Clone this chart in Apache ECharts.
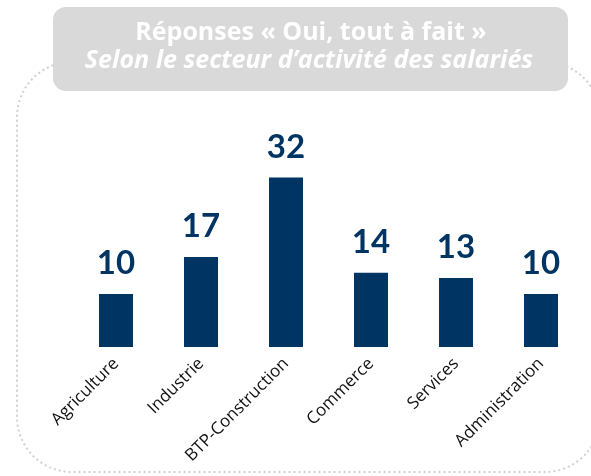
<!DOCTYPE html>
<html>
<head>
<meta charset="utf-8">
<script src="https://cdn.jsdelivr.net/npm/echarts@6/dist/echarts.min.js"></script>
<style>
  html, body { margin: 0; padding: 0; background: #fff; }
  #chart { width: 591px; height: 476px; }
</style>
</head>
<body>
<div id="chart"></div>
<script>
// données
var secteurs = ['Agriculture', 'Industrie', 'BTP-Construction', 'Commerce', 'Services', 'Administration'];
var ouiToutAFait = [10, 17, 32, 14, 13, 10];
var titreLigne1 = 'Réponses « Oui, tout à fait »';
var titreLigne2 = 'Selon le secteur d\u2019activité des salariés';

var bleu = '#003462';
var myChart = echarts.init(document.getElementById('chart'));
var option = {
    backgroundColor: '#fff',
    animation: false,
    graphic: [
        // cadre pointillé
        {
            type: 'rect',
            z: 1,
            shape: {x: 17, y: 62, width: 583, height: 410, r: 55},
            style: {fill: 'none', stroke: '#d0d0d0', lineWidth: 2, lineDash: [2, 3]}
        },
        // bandeau du titre
        {
            type: 'rect',
            z: 2,
            shape: {x: 53, y: 7, width: 515, height: 84, r: 13},
            style: {fill: '#d9d9d9'}
        },
        {
            type: 'text',
            z: 3,
            x: 311, y: 33,
            style: {
                text: titreLigne1, fill: '#fff', align: 'center', verticalAlign: 'middle',
                font: 'bold 25px "Open Sans"'
            }
        },
        {
            type: 'text',
            z: 3,
            x: 309, y: 61,
            style: {
                text: titreLigne2, fill: '#fff', align: 'center', verticalAlign: 'middle',
                font: 'italic bold 25px "Open Sans"'
            }
        }
    ],
    grid: {left: 73.5, right: 7.5, top: 135, bottom: 129},
    xAxis: {
        type: 'category',
        data: secteurs,
        axisLine: {show: false},
        axisTick: {show: false},
        axisLabel: {
            interval: 0,
            rotate: 45,
            margin: 14,
            color: '#111',
            fontFamily: 'Open Sans',
            fontSize: 17
        }
    },
    yAxis: {
        type: 'value',
        min: 0,
        max: 40,
        show: false,
        splitLine: {show: false}
    },
    series: [
        {
            type: 'bar',
            data: ouiToutAFait,
            barWidth: 34,
            itemStyle: {color: bleu},
            label: {
                show: true,
                position: 'top',
                distance: 14,
                color: bleu,
                fontFamily: 'Lato',
                fontWeight: 'bold',
                fontSize: 33
            }
        }
    ]
};
myChart.setOption(option);
</script>
</body>
</html>
